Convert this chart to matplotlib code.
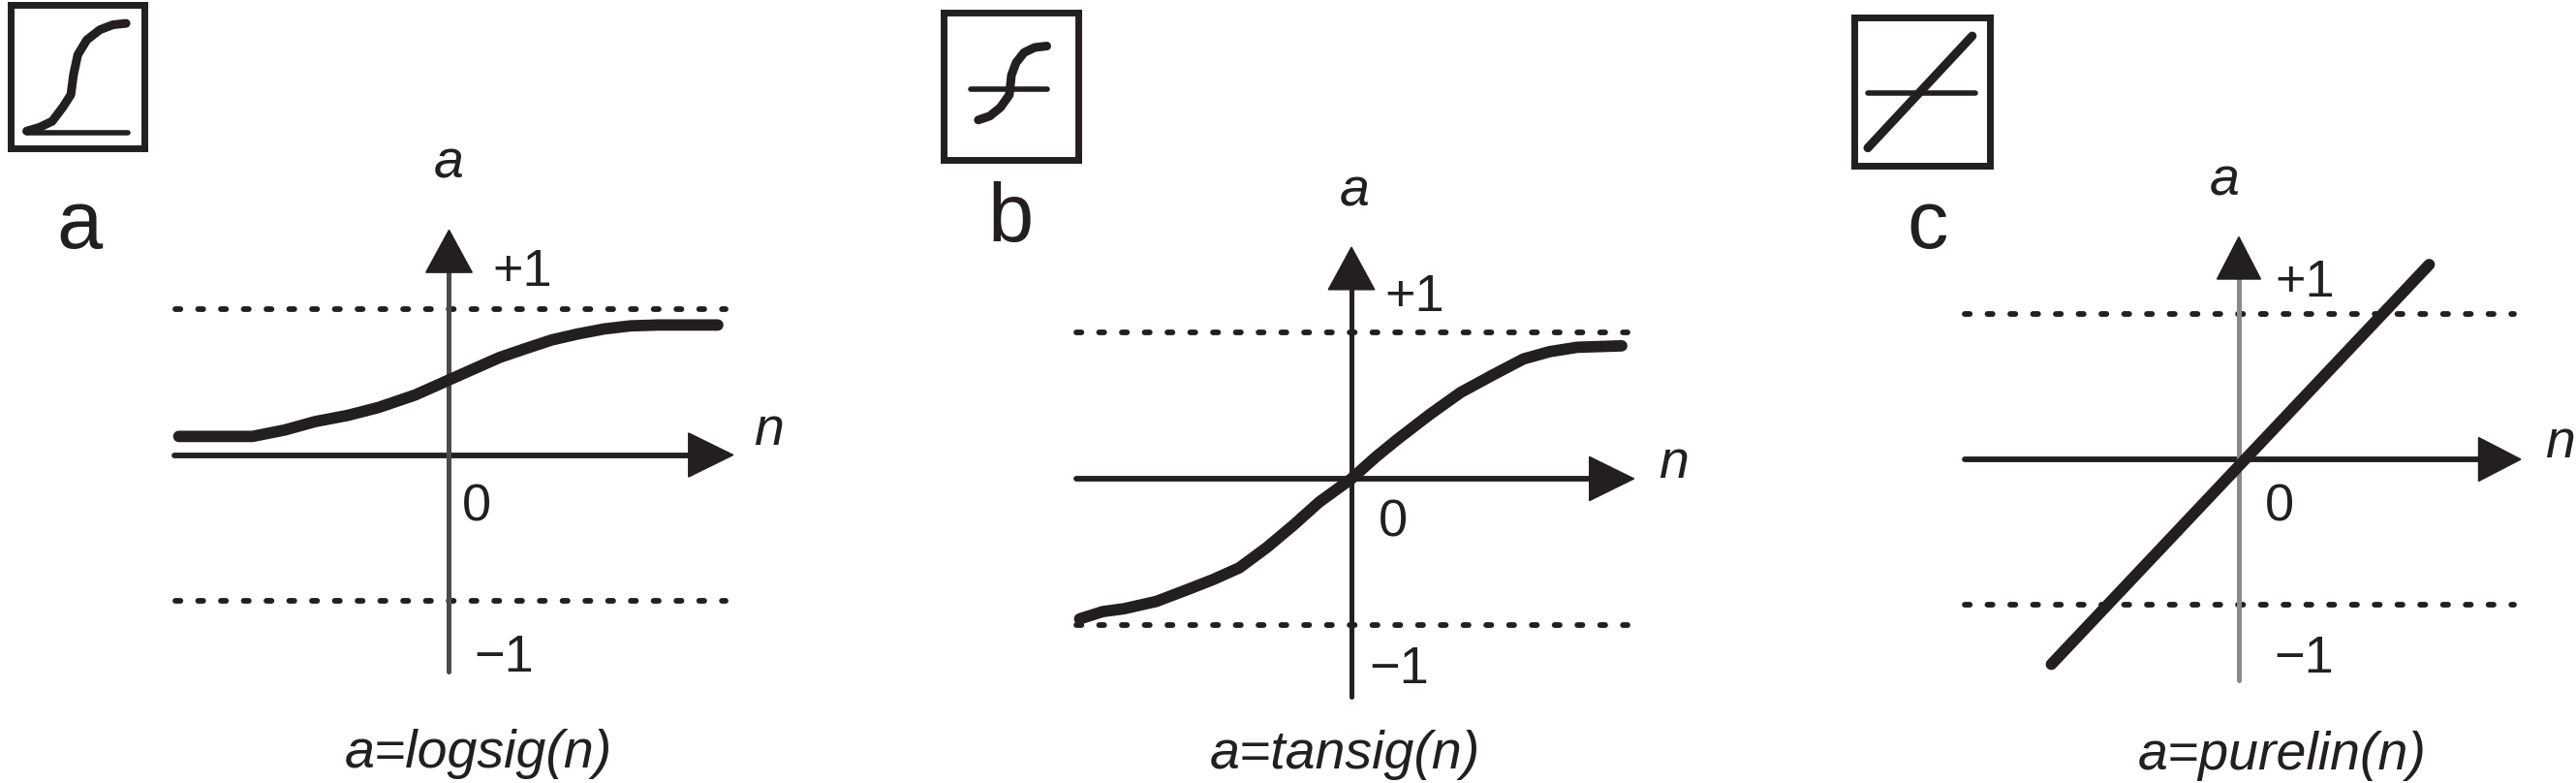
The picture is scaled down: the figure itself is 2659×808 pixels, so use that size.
import numpy as np
import matplotlib
matplotlib.use('Agg')
import matplotlib.pyplot as plt

plt.rcParams['font.family'] = ['Liberation Sans', 'DejaVu Sans']

W, H = 2659, 808
INK = '#231f20'

# curve values (n, a)
logsig_n = [-1.76, -1.56, -1.28, -1.07, -.87, -.66, -.46, -.22, 0, .16, .33, .50, .67, .84, 1.01, 1.18, 1.36, 1.75]
logsig_a = [.127, .127, .127, .171, .229, .271, .325, .411, .514, .589, .668, .729, .788, .829, .863, .884, .890, .890]
tansig_n = [-1.77, -1.62, -1.48, -1.27, -1.07, -.90, -.73, -.55, -.38, -.21, 0, .16, .30, .51, .71, .92, 1.12, 1.29, 1.47, 1.76]
tansig_a = [-.96, -.91, -.89, -.84, -.76, -.69, -.61, -.47, -.32, -.16, 0, .15, .27, .44, .59, .71, .82, .87, .90, .91]
purelin_n = [-1.29, 1.31]
purelin_a = [-1.41, 1.34]

# icon curves, as fractions of the icon box
icon_a_x = [.12, .216, .31, .39, .45, .47, .502, .57, .667, .765, .863]
icon_a_y = [.12, .146, .188, .286, .373, .512, .652, .756, .826, .861, .871]
icon_a_hline = [.12, .88, .11]
icon_b_x = [.258, .344, .422, .488, .504, .539, .598, .676, .766]
icon_b_y = [.271, .298, .356, .441, .576, .661, .729, .763, .773]
icon_b_hline = [.20, .77, .48]
icon_c_x = [.10, .87]
icon_c_y = [.12, .875]
icon_c_hline = [.10, .89, .49]

fig = plt.figure(figsize=(W / 100, H / 100), dpi=100)


def panel(origin, ux, uy, n, a, title, letter, pos, xlim, ylim, dots, yaxis_color=INK, curve_lw=8.5):
    # axes spans the whole figure, scaled so n/a units land on the picture
    ax = fig.add_axes([0, 0, 1, 1])
    ax.set_xlim(-origin[0] / ux, (W - origin[0]) / ux)
    ax.set_ylim((origin[1] - H) / uy, origin[1] / uy)
    ax.axis('off')
    ax.patch.set_alpha(0)

    for y in (1, -1):
        ax.plot(dots, [y, y], color=INK, lw=4.2, ls=(0, (0.9, 3.13)),
                dash_capstyle='round', zorder=2)

    hl, hw = 0.29, 0.15
    ax.plot([xlim[0], xlim[1] - hl], [0, 0], color=INK, lw=4.2,
            solid_capstyle='round', zorder=3)
    ax.plot([0, 0], [ylim[0], ylim[1] - hl], color=yaxis_color, lw=3.6,
            solid_capstyle='round', zorder=3)
    ax.fill([xlim[1], xlim[1] - hl, xlim[1] - hl], [0, hw, -hw], color=INK, zorder=4)
    ax.fill([0, hw, -hw], [ylim[1], ylim[1] - hl, ylim[1] - hl], color=INK, zorder=4)

    ax.plot(n, a, color=INK, lw=curve_lw, solid_capstyle='round', solid_joinstyle='round', zorder=5)

    for (x, y), s, kw in zip(pos, ['+1', '0', '\u22121', 'a', 'n', title, letter],
                             [dict(fontsize=39), dict(fontsize=39), dict(fontsize=39),
                              dict(fontsize=40, style='italic'), dict(fontsize=40, style='italic'),
                              dict(fontsize=40, style='italic'), dict(fontsize=61)]):
        ax.text(x, y, s, color=INK, ha='center', va='center', **kw)


def icon(left, top, right, bottom, x, y, hline):
    ax = fig.add_axes([left / W, 1 - bottom / H, (right - left) / W, (bottom - top) / H])
    ax.set_xlim(0, 1)
    ax.set_ylim(0, 1)
    ax.set_xticks([])
    ax.set_yticks([])
    for s in ax.spines.values():
        s.set_linewidth(5)
        s.set_color(INK)
    ax.plot(x, y, color=INK, lw=6.5, solid_capstyle='round', solid_joinstyle='round')
    ax.plot(hline[:2], [hline[2], hline[2]], color=INK, lw=4, solid_capstyle='round')


panel((463.5, 469.5), 158.5, 150.7, logsig_n, logsig_a, 'a=logsig(n)', 'a',
      [(.48, 1.25), (.18, -.36), (.36, -1.39), (0, 1.99), (2.08, .16), (.19, -2.05), (-2.41, 1.56)],
      (-1.79, 1.85), (-1.48, 1.54), (-1.78, 1.80), yaxis_color='#4a4a4a')
panel((1395, 494), 158.5, 150.7, tansig_n, tansig_a, 'a=tansig(n)', 'b',
      [(.41, 1.24), (.27, -.30), (.31, -1.31), (.02, 1.96), (2.10, .10), (-.04, -1.89), (-2.22, 1.77)],
      (-1.79, 1.84), (-1.49, 1.585), (-1.79, 1.80))
panel((2311, 474), 150, 150, purelin_n, purelin_a, 'a=purelin(n)', 'c',
      [(.455, 1.21), (.28, -.33), (.445, -1.37), (-.10, 1.91), (2.21, .11), (.3, -2.04), (-2.14, 1.60)],
      (-1.89, 1.94), (-1.52, 1.53), (-1.89, 1.89), yaxis_color='#8a8a8a')

icon(11, 5, 149, 153, icon_a_x, icon_a_y, icon_a_hline)
icon(974, 13, 1113, 165, icon_b_x, icon_b_y, icon_b_hline)
icon(1914, 18, 2054, 171, icon_c_x, icon_c_y, icon_c_hline)

fig.savefig('out.png', dpi=100)
